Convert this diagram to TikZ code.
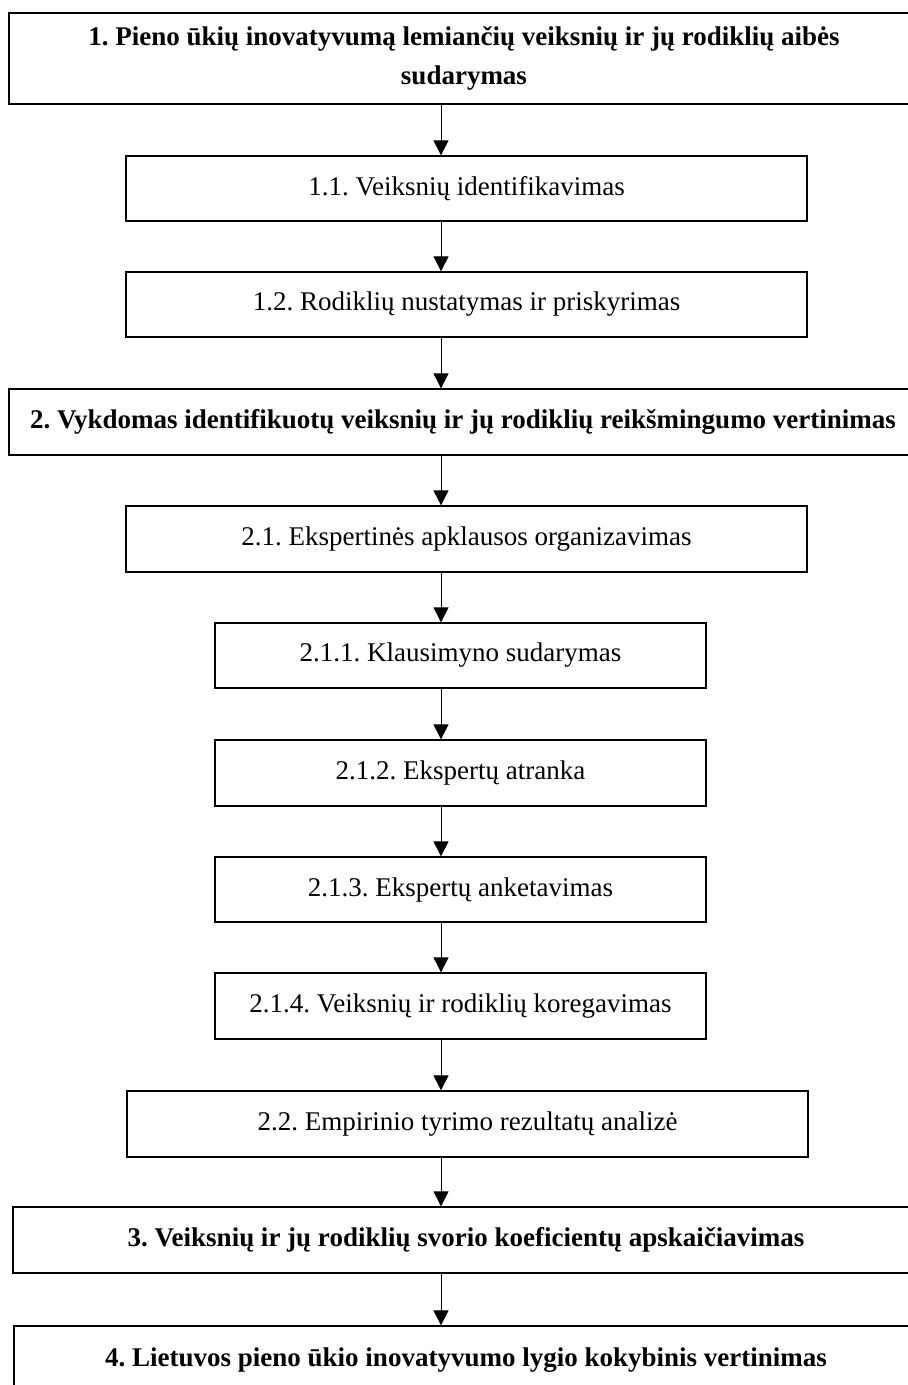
\documentclass[tikz,border=0pt]{standalone}
\usepackage{fontspec}
\setmainfont{Liberation Serif}
\usetikzlibrary{arrows.meta}
\tikzset{
	stagebox/.style={draw, line width=1.3pt, inner sep=0pt, align=center, font=\frenchspacing\bfseries\fontsize{27}{39}\selectfont},
	taskbox/.style={draw, line width=1.3pt, inner sep=0pt, align=center, font=\frenchspacing\fontsize{27}{32}\selectfont},
	flow/.style={line width=0.9pt, -{Triangle[width=15pt,length=15pt]}}
}

\begin{document}
\begin{tikzpicture}[x=1pt, y=-1pt]
			%%%%% START %%%%%
			\clip (0, 0) rectangle (908, 1385);
			\coordinate (ax) at (441, 0);
			
			\node[stagebox, minimum width=910pt, minimum height=91pt] (st1) at (464, 58.5) {1. Pieno ūkių inovatyvumą lemiančių veiksnių ir jų rodiklių aibės\\sudarymas};
			
			\node[taskbox, minimum width=681pt, minimum height=65pt] (t11) at (466.5, 188.5) {1.1. Veiksnių identifikavimas};
			\node[taskbox, minimum width=681pt, minimum height=65pt] (t12) at (466.5, 304.5) {1.2. Rodiklių nustatymas ir priskyrimas};
			
			\node[stagebox, minimum width=908pt, minimum height=66pt] (st2) at (463, 422) {2. Vykdomas identifikuotų veiksnių ir jų rodiklių reikšmingumo vertinimas};
			
			\node[taskbox, minimum width=681pt, minimum height=66pt] (t21) at (466.5, 539) {2.1. Ekspertinės apklausos organizavimas};
			\node[taskbox, minimum width=491pt, minimum height=65pt] (t211) at (460.5, 655.5) {2.1.1. Klausimyno sudarymas};
			\node[taskbox, minimum width=491pt, minimum height=66pt] (t212) at (460.5, 773) {2.1.2. Ekspertų atranka};
			\node[taskbox, minimum width=491pt, minimum height=65pt] (t213) at (460.5, 889.5) {2.1.3. Ekspertų anketavimas};
			\node[taskbox, minimum width=491pt, minimum height=66pt] (t214) at (460.5, 1006) {2.1.4. Veiksnių ir rodiklių koregavimas};
			\node[taskbox, minimum width=681pt, minimum height=66pt] (t22) at (467.5, 1124) {2.2. Empirinio tyrimo rezultatų analizė};
			
			\node[stagebox, minimum width=906pt, minimum height=66pt] (st3) at (466, 1240) {3. Veiksnių ir jų rodiklių svorio koeficientų apskaičiavimas};
			\node[stagebox, minimum width=904pt, minimum height=120pt] (st4) at (466, 1386) {};
			\node[font=\frenchspacing\bfseries\fontsize{27}{32}\selectfont] (st4txt) at (466, 1360) {4. Lietuvos pieno ūkio inovatyvumo lygio kokybinis vertinimas};
			
			\draw[flow] (st1.south -| ax) -- (t11.north -| ax);
			\draw[flow] (t11.south -| ax) -- (t12.north -| ax);
			\draw[flow] (t12.south -| ax) -- (st2.north -| ax);
			\draw[flow] (st2.south -| ax) -- (t21.north -| ax);
			\draw[flow] (t21.south -| ax) -- (t211.north -| ax);
			\draw[flow] (t211.south -| ax) -- (t212.north -| ax);
			\draw[flow] (t212.south -| ax) -- (t213.north -| ax);
			\draw[flow] (t213.south -| ax) -- (t214.north -| ax);
			\draw[flow] (t214.south -| ax) -- (t22.north -| ax);
			\draw[flow] (t22.south -| ax) -- (st3.north -| ax);
			\draw[flow] (st3.south -| ax) -- (st4.north -| ax);
			
			%%%%% END %%%%%
		\end{tikzpicture}
\end{document}
